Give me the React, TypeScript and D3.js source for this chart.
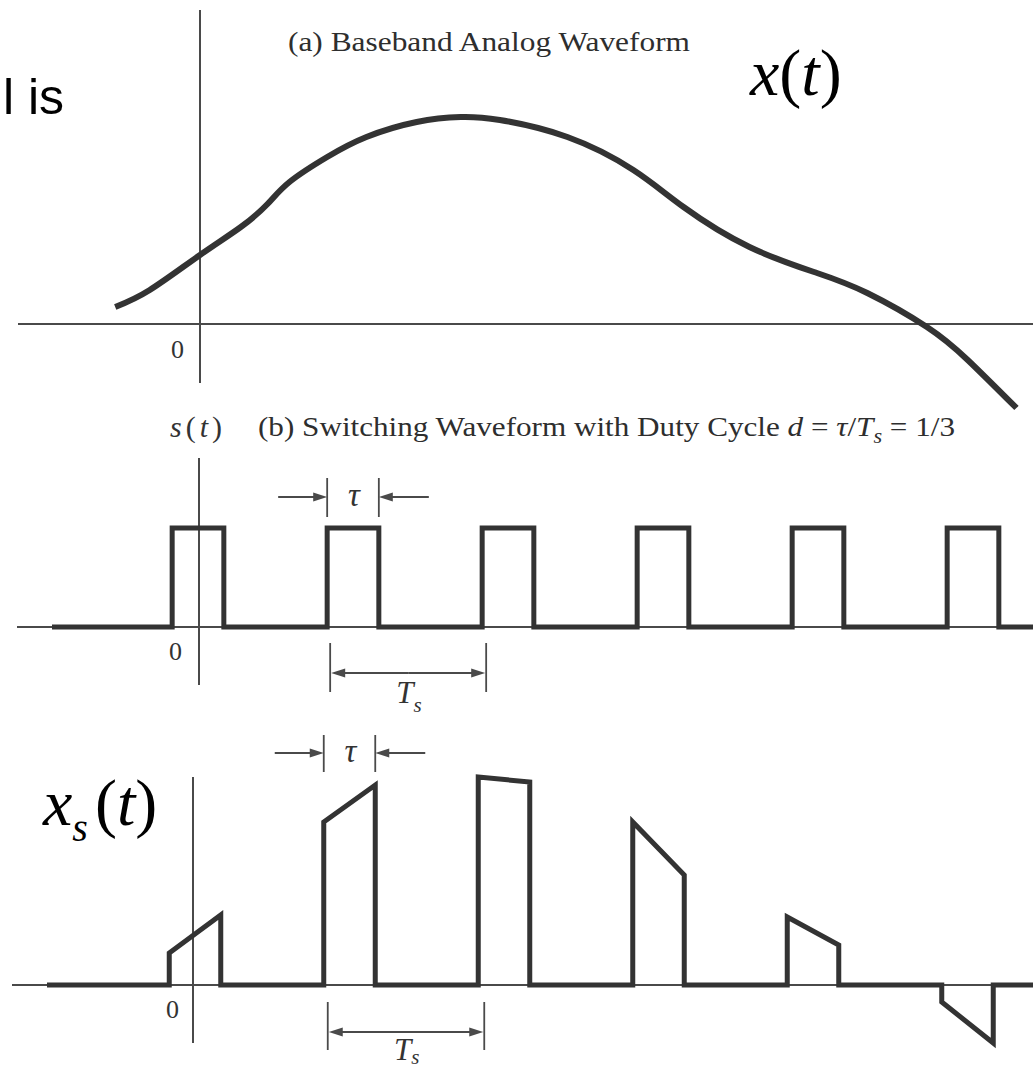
import React from 'react';
import * as d3 from 'd3';

// Duty cycle of the switching waveform, d = tau / Ts
const DUTY = 1 / 3;

// Baseband analog waveform x(t): time in sampling periods, amplitude in arbitrary units
const analogT = [-0.54, -0.32, 0, 0.26, 0.43, 0.57, 0.81, 1.06, 1.38, 1.66, 1.91, 2.34, 2.76, 3.08, 3.5, 3.93, 4.25, 4.63, 4.89, 5.2];
const analogV = [0.17, 0.34, 0.69, 0.97, 1.2, 1.42, 1.67, 1.87, 2.02, 2.07, 2.04, 1.87, 1.54, 1.17, 0.77, 0.51, 0.31, -0.03, -0.36, -0.84];

// Pulse indices k (pulse centred on t = k Ts)
const pulseIndex = [0, 1, 2, 3, 4, 5];
// Switching waveform level during a pulse
const switchLevel = [1, 1, 1, 1, 1, 1];
// Naturally sampled signal: value at leading and trailing edge of each pulse
const sampledLeft = [0.32, 1.63, 2.08, 1.63, 0.68, -0.17];
const sampledRight = [0.7, 2.0, 2.03, 1.1, 0.4, -0.58];

const INK = '#333';
const AXIS = '#4a4a4a';
const SERIF = '"Liberation Serif", "Times New Roman", Times, serif';

type Pt = [number, number];

function pulseTrain(lefts: number[], rights: number[], tStart: number, tEnd: number): Pt[] {
  const pts: Pt[] = [[tStart, 0]];
  pulseIndex.forEach((k, i) => {
    const a = k - DUTY / 2;
    const b = k + DUTY / 2;
    pts.push([a, 0], [a, lefts[i]], [b, rights[i]], [b, 0]);
  });
  pts.push([tEnd, 0]);
  return pts;
}

function Arrow({ x1, x2, y }: { x1: number; x2: number; y: number }) {
  // shaft from x1 to x2 with a filled head at x2
  const dir = Math.sign(x2 - x1);
  const L = 14;
  const W = 4.5;
  return (
    <g>
      <line x1={x1} y1={y} x2={x2 - dir * L * 0.6} y2={y} stroke={AXIS} strokeWidth={1.8} />
      <polygon points={`${x2},${y} ${x2 - dir * L},${y - W} ${x2 - dir * L},${y + W}`} fill={AXIS} />
    </g>
  );
}

function TauMark({ xa, xb, y, y0, y1 }: { xa: number; xb: number; y: number; y0: number; y1: number }) {
  return (
    <g>
      <line x1={xa} y1={y0} x2={xa} y2={y1} stroke={AXIS} strokeWidth={1.8} />
      <line x1={xb} y1={y0} x2={xb} y2={y1} stroke={AXIS} strokeWidth={1.8} />
      <Arrow x1={xa - 49} x2={xa} y={y} />
      <Arrow x1={xb + 50} x2={xb} y={y} />
      <text
        x={(xa + xb) / 2 + 1}
        y={y + 9}
        fontFamily={SERIF}
        fontStyle="italic"
        fontSize={33}
        textAnchor="middle"
        fill={INK}
      >
        τ
      </text>
    </g>
  );
}

function PeriodMark({ xa, xb, y, y0, y1, labelY, subDy }: { xa: number; xb: number; y: number; y0: number; y1: number; labelY: number; subDy: number }) {
  return (
    <g>
      <line x1={xa} y1={y0} x2={xa} y2={y1} stroke={AXIS} strokeWidth={1.8} />
      <line x1={xb} y1={y0} x2={xb} y2={y1} stroke={AXIS} strokeWidth={1.8} />
      <Arrow x1={(xa + xb) / 2} x2={xa + 1} y={y} />
      <Arrow x1={(xa + xb) / 2} x2={xb - 1} y={y} />
      <text x={(xa + xb) / 2 - 12} y={labelY} fontFamily={SERIF} fontSize={31} fill={INK}>
        <tspan fontStyle="italic">T</tspan>
        <tspan fontStyle="italic" fontSize={21} dy={subDy}>s</tspan>
      </text>
    </g>
  );
}

export default function App() {
  // (a) baseband waveform
  const xA = d3.scaleLinear().domain([0, 1]).range([200, 357]);
  const yA = d3.scaleLinear().domain([0, 1]).range([324, 224]);
  // (b) switching waveform
  const xB = d3.scaleLinear().domain([0, 1]).range([198, 353]);
  const yB = d3.scaleLinear().domain([0, 1]).range([627, 528]);
  // (c) sampled waveform
  const xC = d3.scaleLinear().domain([0, 1]).range([195, 349.5]);
  const yC = d3.scaleLinear().domain([0, 1]).range([985, 885]);

  const analogPts: Pt[] = analogT.map((t, i) => [t, analogV[i]]);
  const analogPath = d3
    .line<Pt>()
    .x((d) => xA(d[0]))
    .y((d) => yA(d[1]))
    .curve(d3.curveNatural)(analogPts) as string;

  const sPts = pulseTrain(switchLevel, switchLevel, xB.invert(52), xB.invert(1040));
  const sPath = d3
    .line<Pt>()
    .x((d) => xB(d[0]))
    .y((d) => yB(d[1]))(sPts) as string;

  const xsPts = pulseTrain(sampledLeft, sampledRight, xC.invert(47), xC.invert(1040));
  const xsPath = d3
    .line<Pt>()
    .x((d) => xC(d[0]))
    .y((d) => yC(d[1]))(xsPts) as string;

  return (
    <svg
      width={1033}
      height={1070}
      viewBox="0 0 1033 1070"
      style={{ position: 'absolute', left: 0, top: 0, background: '#fff' }}
    >
      <rect width={1033} height={1070} fill="#fff" />

      {/* fragment of surrounding slide text */}
      <text x={64} y={114} fontFamily='"Liberation Sans", Arial, sans-serif' fontSize={50} textAnchor="end" fill="#000">
        l is
      </text>

      {/* ---------- (a) Baseband Analog Waveform ---------- */}
      <line x1={18} y1={yA(0)} x2={1033} y2={yA(0)} stroke={AXIS} strokeWidth={2} />
      <line x1={xA(0)} y1={10} x2={xA(0)} y2={383} stroke={AXIS} strokeWidth={2} />
      <text x={171} y={358} fontFamily={SERIF} fontSize={26} fill={INK}>0</text>
      <text
        x={288}
        y={51}
        fontFamily={SERIF}
        fontSize={28}
        textLength={402}
        lengthAdjust="spacingAndGlyphs"
        fill="#2e2e2e"
      >
        (a) Baseband Analog Waveform
      </text>
      <text x={750} y={95} fontFamily={SERIF} fontSize={66} fill="#000">
        <tspan fontStyle="italic">x</tspan>(<tspan fontStyle="italic">t</tspan>)
      </text>
      <path d={analogPath} fill="none" stroke={INK} strokeWidth={6} strokeLinecap="butt" />

      {/* ---------- (b) Switching Waveform ---------- */}
      <text x={170} y={437} fontFamily={SERIF} fontSize={30} fill={INK} textLength={52} lengthAdjust="spacing">
        <tspan fontStyle="italic">s</tspan>(<tspan fontStyle="italic">t</tspan>)
      </text>
      <text
        x={258}
        y={436}
        fontFamily={SERIF}
        fontSize={28}
        fill="#2e2e2e"
        textLength={697}
        lengthAdjust="spacingAndGlyphs"
      >
        (b) Switching Waveform with Duty Cycle <tspan fontStyle="italic">d</tspan> = <tspan fontStyle="italic">τ</tspan>/<tspan fontStyle="italic">T</tspan>
        <tspan fontStyle="italic" fontSize={20} dy={7}>s</tspan>
        <tspan dy={-7}> = 1/3</tspan>
      </text>
      <line x1={17} y1={yB(0)} x2={1033} y2={yB(0)} stroke={AXIS} strokeWidth={2} />
      <line x1={xB(0) + 1} y1={458} x2={xB(0) + 1} y2={685} stroke={AXIS} strokeWidth={2} />
      <text x={169} y={660} fontFamily={SERIF} fontSize={26} fill={INK}>0</text>
      <path d={sPath} fill="none" stroke={INK} strokeWidth={5} strokeLinejoin="miter" />
      <TauMark xa={xB(1 - DUTY / 2)} xb={xB(1 + DUTY / 2)} y={497} y0={478} y1={517} />
      <PeriodMark xa={xB(1 - DUTY / 2) + 3} xb={xB(2 - DUTY / 2) + 4} y={673} y0={643} y1={692} labelY={703} subDy={9} />

      {/* ---------- (c) Naturally sampled waveform ---------- */}
      <text x={43} y={825} fontFamily={SERIF} fontSize={66} fill="#000">
        <tspan fontStyle="italic">x</tspan>
        <tspan fontStyle="italic" fontSize={40} dy={16}>s</tspan>
        <tspan x={95} dy={-16}>(</tspan>
        <tspan fontStyle="italic">t</tspan>)
      </text>
      <line x1={12} y1={yC(0)} x2={1033} y2={yC(0)} stroke={AXIS} strokeWidth={2} />
      <line x1={xC(0) - 2} y1={777} x2={xC(0) - 2} y2={1043} stroke={AXIS} strokeWidth={2} />
      <text x={166} y={1018} fontFamily={SERIF} fontSize={26} fill={INK}>0</text>
      <path d={xsPath} fill="none" stroke={INK} strokeWidth={5} strokeLinejoin="miter" />
      <TauMark xa={xC(1 - DUTY / 2)} xb={xC(1 + DUTY / 2)} y={753} y0={735} y1={772} />
      <PeriodMark xa={xC(1 - DUTY / 2) + 4} xb={xC(2 - DUTY / 2) + 6} y={1032} y0={1002} y1={1050} labelY={1060} subDy={4} />
    </svg>
  );
}
